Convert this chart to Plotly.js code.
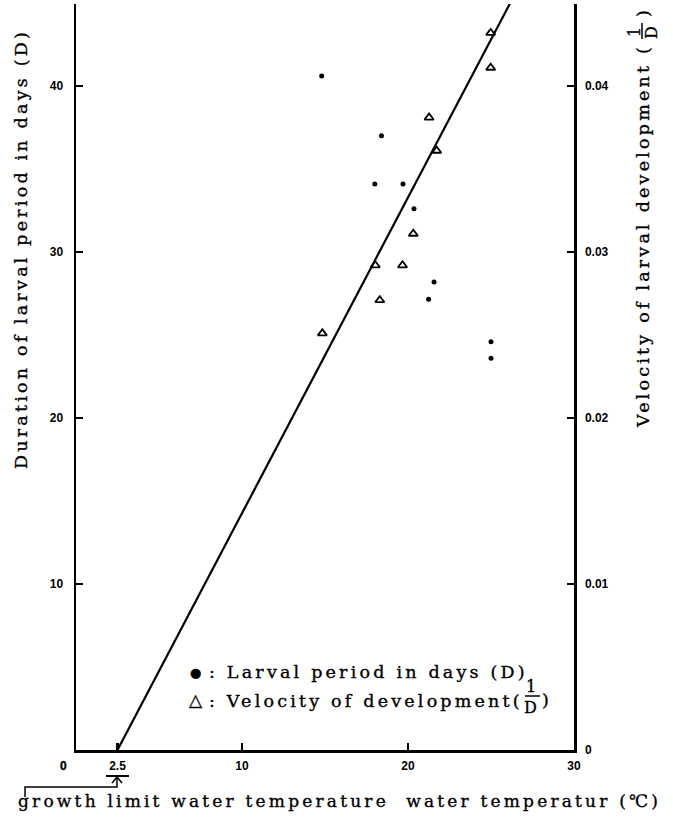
<!DOCTYPE html>
<html>
<head>
<meta charset="utf-8">
<script src="https://cdn.plot.ly/plotly-3.0.1.min.js"></script>
<style>
html,body{margin:0;padding:0;background:#fff;}
#chart{width:673px;height:821px;}
.annotation-text{letter-spacing:3.2px;stroke:#000;stroke-width:0.35px;}
</style>
</head>
<body>
<div id="chart"></div>
<script>
// ---- data ----
// Larval period in days (D) vs water temperature (left axis)
const dotTemp = [14.8, 18.4, 18.0, 19.7, 20.36, 21.57, 21.24, 25.0, 25.0];
const dotDays = [40.6, 37.0, 34.1, 34.1, 32.6, 28.2, 27.15, 24.6, 23.6];
// Velocity of development 1/D vs water temperature (right axis)
const triTemp = [24.98, 24.98, 21.27, 21.73, 20.32, 18.03, 19.67, 18.3, 14.84];
const triVel  = [0.0432, 0.0411, 0.0381, 0.0361, 0.0311, 0.0292, 0.0292, 0.0271, 0.0251];
// Regression line of velocity, crossing zero at the growth limit 2.5 C
const lineTemp = [2.5, 27.0];
const lineVel  = [0.0, 0.0466];
// Tick values / labels
const xTickVals = [2.5, 10, 20, 30];
const xTickText = ['2.5', '10', '20', '30'];
const yTickVals = [10, 20, 30, 40];
const y2TickVals = [0, 0.01, 0.02, 0.03, 0.04];
const y2TickText = ['0', '0.01', '0.02', '0.03', '0.04'];

// ---- layout geometry (pixels) ----
const L = 76, R = 99, T = 4, B = 71;
const PW = 673 - L - R, PH = 821 - T - B;
const px = v => (v - L) / PW;            // pixel x -> paper x
const py = v => (821 - B - v) / PH;      // pixel y -> paper y

const serif = 'DejaVu Serif, serif';
const FS = 17.5;
const tf = {family: 'Liberation Sans, Arial, sans-serif', size: 12, color: '#000', weight: 'bold'};
const txt = (s, x, y, o) => Object.assign({
  text: s, xref: 'paper', yref: 'paper', x: px(x), y: py(y),
  showarrow: false, xanchor: 'center', yanchor: 'middle',
  font: {family: serif, size: FS, color: '#000'}
}, o || {});
const small = {family: serif, size: 16, color: '#000'};

const annotations = [
  txt('Duration of larval period in days (D)', 21, 249, {textangle: -90}),
  txt('Velocity of larval development (', 643, 236, {textangle: -90}),
  txt('1', 634, 31, {textangle: -90, font: small}),
  txt('D', 651, 31, {textangle: -90, font: small}),
  txt(')', 643, 12, {textangle: -90}),
  txt('●', 197, 672, {font: {family: 'DejaVu Sans', size: 13, color: '#000'}}),
  txt(': Larval period in days (D)', 207, 672, {xanchor: 'left'}),
  txt('△', 197, 700, {font: {family: 'DejaVu Sans', size: 17, color: '#000'}}),
  txt(': Velocity of development(', 207, 701, {xanchor: 'left'}),
  txt('1', 532, 686, {font: small}),
  txt('D', 532, 707, {font: small}),
  txt(')', 547, 700),
  txt('growth limit water temperature\u00a0\u00a0water temperatur (℃)', 339, 801, {font: {family: serif, size: 17, color: '#000'}}),
  txt('0', 65, 766, {font: tf})
];

const shapes = [
  // fraction bars
  {type: 'line', xref: 'paper', yref: 'paper', x0: px(642), x1: px(642), y0: py(23), y1: py(39), line: {color: '#000', width: 1.5}},
  {type: 'line', xref: 'paper', yref: 'paper', x0: px(525), x1: px(540), y0: py(696), y1: py(696), line: {color: '#000', width: 1.5}},
  // underline below 2.5 and growth-limit bracket with arrow
  {type: 'line', xref: 'paper', yref: 'paper', x0: px(106), x1: px(129), y0: py(776), y1: py(776), line: {color: '#000', width: 2}},
  {type: 'path', xref: 'paper', yref: 'paper',
   path: 'M' + px(25) + ',' + py(797) + ' L' + px(25) + ',' + py(787) + ' L' + px(117) + ',' + py(787) + ' L' + px(117) + ',' + py(778),
   line: {color: '#000', width: 1.5}},
  {type: 'path', xref: 'paper', yref: 'paper',
   path: 'M' + px(112) + ',' + py(783) + ' L' + px(117) + ',' + py(777) + ' L' + px(122) + ',' + py(783),
   line: {color: '#000', width: 1.5}}
];

const traces = [
  {x: dotTemp, y: dotDays, type: 'scatter', mode: 'markers', yaxis: 'y',
   marker: {symbol: 'circle', size: 5, color: '#000'}, name: 'Larval period in days (D)'},
  {x: triTemp, y: triVel, type: 'scatter', mode: 'markers', yaxis: 'y2',
   marker: {symbol: 'triangle-up-open', size: 8, color: '#000', line: {width: 1.8, color: '#000'}}, name: 'Velocity of development (1/D)'},
  {x: lineTemp, y: lineVel, type: 'scatter', mode: 'lines', yaxis: 'y2',
   line: {color: '#000', width: 2.2}, name: 'regression'}
];

const axCommon = {showgrid: false, zeroline: false, showline: true, linewidth: 2.5, linecolor: '#000',
  ticks: 'inside', ticklen: 7, tickwidth: 2.5, tickcolor: '#000', tickfont: tf};

const layout = {
  width: 673, height: 821,
  margin: {l: L, r: R, t: T, b: B, pad: 0},
  paper_bgcolor: '#fff', plot_bgcolor: '#fff',
  showlegend: false,
  xaxis: Object.assign({}, axCommon, {range: [0, 30], tickvals: xTickVals, ticktext: xTickText, ticklabelstandoff: 3}),
  yaxis: Object.assign({}, axCommon, {range: [0, PH / 16.6], tickvals: yTickVals, ticklabelstandoff: 8}),
  yaxis2: Object.assign({}, axCommon, {range: [0, PH / 16600], overlaying: 'y', side: 'right',
           tickvals: y2TickVals, ticktext: y2TickText, ticklabelstandoff: 6}),
  annotations: annotations,
  shapes: shapes
};

Plotly.newPlot('chart', traces, layout, {staticPlot: true});
</script>
</body>
</html>
